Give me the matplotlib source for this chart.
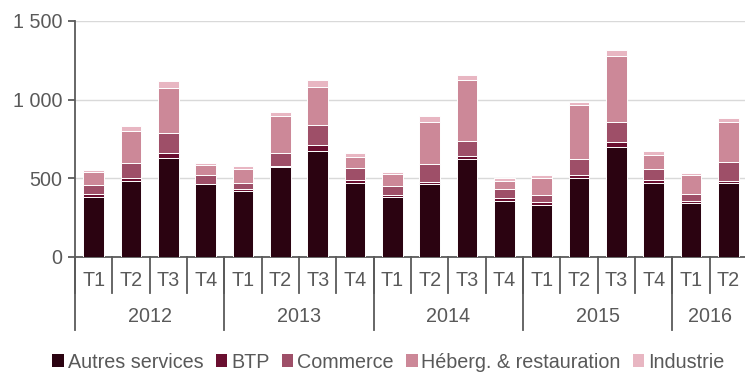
import matplotlib
matplotlib.use("Agg")
import matplotlib.pyplot as plt
import numpy as np
from matplotlib.transforms import blended_transform_factory

plt.rcParams['font.family'] = ['Liberation Sans', 'DejaVu Sans']

quarters = ["T1", "T2", "T3", "T4"] * 4 + ["T1", "T2"]
years = ["2012", "2013", "2014", "2015", "2016"]
year_counts = [4, 4, 4, 4, 2]

series_names = ["Autres services", "BTP", "Commerce", "Héberg. & restauration", "Industrie"]
autres = [382, 486, 632, 461, 422, 569, 675, 471, 382, 461, 624, 359, 333, 499, 696, 473, 342, 473]
btp = [21, 19, 26, 6, 13, 10, 38, 17, 15, 14, 21, 16, 19, 23, 34, 19, 17, 13]
commerce = [53, 93, 131, 57, 36, 83, 127, 78, 57, 117, 93, 60, 45, 100, 125, 68, 44, 115]
heberg = [85, 204, 286, 58, 89, 235, 238, 70, 74, 267, 384, 49, 102, 341, 424, 87, 121, 254]
industrie = [9, 28, 45, 14, 17, 24, 46, 28, 11, 38, 34, 17, 21, 23, 38, 28, 13, 28]

colors = ["#2b0311", "#6a0f30", "#9e4f68", "#cc8898", "#e8b6c2"]
text_color = "#595959"
axis_color = "#5a5a5a"
fs = 14.2

fig = plt.figure(figsize=(7.45, 3.72), dpi=100)
ax = fig.add_axes([75/745, 115/372, 672/745, 236/372])

x = np.arange(len(quarters))
bottom = np.zeros(len(quarters))
for name, vals, c in zip(series_names, [autres, btp, commerce, heberg, industrie], colors):
    vals = np.array(vals, dtype=float)
    ax.bar(x, vals, bottom=bottom, width=0.56, color=c, edgecolor="white",
           linewidth=0.7, label=name, zorder=3)
    bottom += vals

ax.set_xlim(-0.5, len(quarters) - 0.5)
ax.set_ylim(0, 1500)
ax.set_yticks([0, 500, 1000, 1500])
ax.set_yticklabels(["0", "500", "1 000", "1 500"])
ax.grid(axis="y", color="#d9d9d9", linewidth=1.0, zorder=0)
ax.set_axisbelow(True)

for s in ["top", "right"]:
    ax.spines[s].set_visible(False)
ax.spines["left"].set_color(axis_color)
ax.spines["bottom"].set_color(axis_color)
ax.spines["left"].set_linewidth(1.3)
ax.spines["bottom"].set_linewidth(1.3)
ax.tick_params(axis="y", colors=axis_color, labelcolor=text_color, labelsize=fs,
               length=5, width=1.3, pad=4)
ax.tick_params(axis="x", length=0, labelbottom=False)

trans = blended_transform_factory(ax.transData, ax.transAxes)
h = 236.0
# quarter separators and labels
for i in range(len(quarters) + 1):
    ax.plot([i - 0.5, i - 0.5], [0, -36 / h], transform=trans, color=axis_color,
            linewidth=1.3, clip_on=False)
for i, q in enumerate(quarters):
    ax.text(i, -24 / h, q, transform=trans, ha="center", va="center",
            fontsize=fs, color=text_color)
# year separators and labels
start = 0
for yname, cnt in zip(years, year_counts):
    ax.plot([start - 0.5, start - 0.5], [0, -73 / h], transform=trans,
            color=axis_color, linewidth=1.3, clip_on=False)
    ax.text(start + (cnt - 1) / 2, -60 / h, yname, transform=trans, ha="center",
            va="center", fontsize=fs, color=text_color)
    start += cnt
ax.plot([start - 0.5, start - 0.5], [0, -73 / h], transform=trans,
        color=axis_color, linewidth=1.3, clip_on=False)

leg = fig.legend(loc="center", bbox_to_anchor=(0.5215, 1 - 362 / 372), ncol=5,
                 frameon=False, fontsize=fs, handlelength=0.6, handleheight=0.6,
                 handletextpad=0.2, columnspacing=0.6, borderaxespad=0,
                 borderpad=0)
for t in leg.get_texts():
    t.set_color(text_color)
for p in leg.get_patches():
    p.set_edgecolor("none")

fig.savefig("out.png", dpi=100)
